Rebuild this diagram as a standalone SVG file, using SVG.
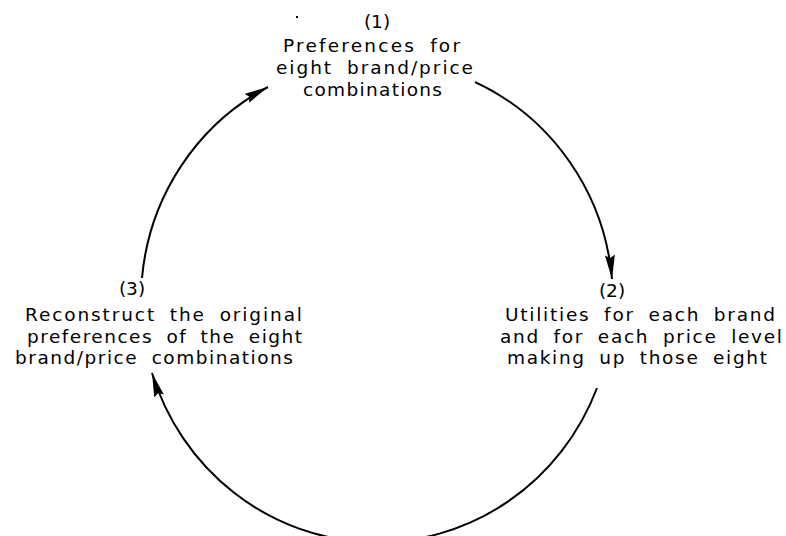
<svg xmlns="http://www.w3.org/2000/svg" width="786" height="536" viewBox="0 0 786 536">
<style>
  .t { font-family: "DejaVu Sans", "Liberation Sans", sans-serif; font-size: 18.5px; fill: #000; word-spacing: 6px; }
  .c { text-anchor: middle; }
  .arc { fill: none; stroke: #000; stroke-width: 2; }
</style>
<defs>
  <marker id="ah" markerUnits="userSpaceOnUse" markerWidth="26" markerHeight="12" refX="24" refY="5" orient="auto">
    <path d="M0,0 L24,5 L0,10 L3,5 z" fill="#000"/>
  </marker>
</defs>
<rect width="786" height="536" fill="#fff"/>
<g id="connectors">
  <path class="arc" d="M142,278 A236,240 0 0 1 268,87" marker-end="url(#ah)"/>
  <path class="arc" d="M475,82 A236,240 0 0 1 612,279" marker-end="url(#ah)"/>
  <path class="arc" d="M597,388 A236,242 0 0 1 152,373" marker-end="url(#ah)"/>
</g>
<rect x="296" y="16" width="2" height="2" fill="#000"/>
<g id="node1">
  <text class="t c" x="377" y="28">(1)</text>
  <text class="t" x="283" y="52" textLength="177" lengthAdjust="spacing">Preferences for</text>
  <text class="t" x="276" y="74" textLength="197" lengthAdjust="spacing">eight brand/price</text>
  <text class="t" x="303" y="96" textLength="139" lengthAdjust="spacing">combinations</text>
</g>
<g id="node2">
  <text class="t c" x="612" y="297">(2)</text>
  <text class="t" x="505" y="321" textLength="270" lengthAdjust="spacing">Utilities for each brand</text>
  <text class="t" x="500" y="343" textLength="282" lengthAdjust="spacing">and for each price level</text>
  <text class="t" x="507" y="364" textLength="260" lengthAdjust="spacing">making up those eight</text>
</g>
<g id="node3">
  <text class="t c" x="132" y="295">(3)</text>
  <text class="t" x="25" y="321" textLength="277" lengthAdjust="spacing">Reconstruct the original</text>
  <text class="t" x="27" y="343" textLength="275" lengthAdjust="spacing">preferences of the eight</text>
  <text class="t" x="15" y="364" textLength="278" lengthAdjust="spacing">brand/price combinations</text>
</g>
</svg>
